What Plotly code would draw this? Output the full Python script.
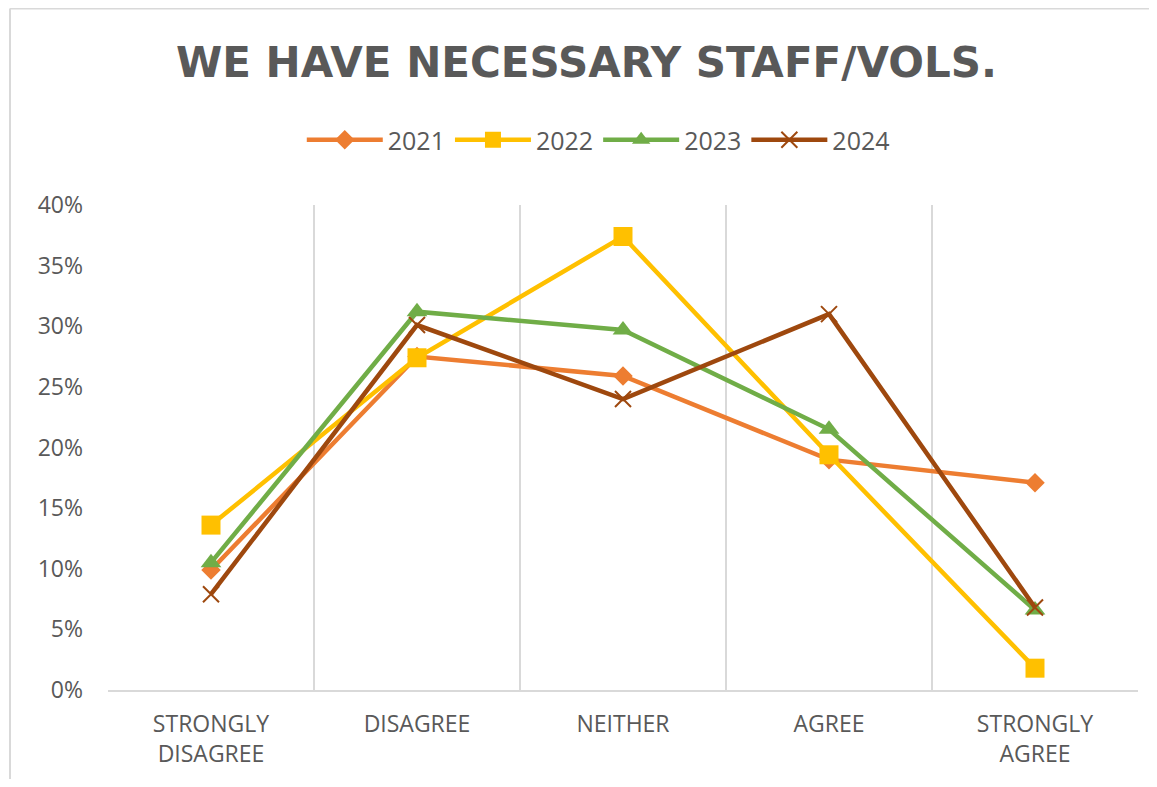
import plotly.graph_objects as go

# survey categories (x axis) and share of responses per year
categories = ["STRONGLY<br>DISAGREE", "DISAGREE", "NEITHER", "AGREE", "STRONGLY<br>AGREE"]
years = ["2021", "2022", "2023", "2024"]

share_2021 = [0.099, 0.275, 0.259, 0.190, 0.171]
share_2022 = [0.136, 0.274, 0.374, 0.194, 0.018]
share_2023 = [0.105, 0.312, 0.297, 0.215, 0.066]
share_2024 = [0.079, 0.301, 0.240, 0.310, 0.068]

y_ticks = [0, 0.05, 0.10, 0.15, 0.20, 0.25, 0.30, 0.35, 0.40]

series = [share_2021, share_2022, share_2023, share_2024]
colors = ["#ED7D31", "#FFC000", "#70AD47", "#9E480E"]
symbols = ["diamond", "square", "triangle-up", "x-thin"]
sizes = [15, 19, 18, 16]

fig = go.Figure()
x_pos = list(range(len(categories)))
for name, vals, col, sym, sz in zip(years, series, colors, symbols, sizes):
    marker = dict(symbol=sym, size=sz, color=col)
    if sym == "x-thin":
        marker["line"] = dict(width=2, color=col)
    fig.add_trace(go.Scatter(
        x=x_pos,
        y=vals,
        name=name,
        mode="lines+markers",
        line=dict(color=col, width=4.5),
        marker=marker,
    ))

# page body has an 8px margin, so the figure is a bit smaller than the window
W, H = 1141, 771
L, T, R, B = 100, 197, 11, 89
pw, ph = W - L - R, H - T - B

# left and top edges of the excel chart frame
fig.add_shape(type="line", xref="paper", yref="paper",
              x0=(2 - L) / pw, x1=(2 - L) / pw,
              y0=-B / ph, y1=(H - B - 0.5) / ph,
              line=dict(color="#d9d9d9", width=2), layer="below")
fig.add_shape(type="line", xref="paper", yref="paper",
              x0=(2 - L) / pw, x1=(W - L) / pw,
              y0=(H - B - 0.5) / ph, y1=(H - B - 0.5) / ph,
              line=dict(color="#d9d9d9", width=2), layer="below")

fig.update_layout(
    width=W, height=H,
    margin=dict(l=L, r=R, t=T, b=B),
    paper_bgcolor="white",
    plot_bgcolor="white",
    font=dict(family="Open Sans", color="#595959"),
    title=dict(
        text="<b>WE HAVE NECESSARY STAFF/VOLS.</b>",
        x=0.507, xanchor="center", y=1 - 54 / H, yanchor="middle",
        font=dict(size=42, color="#595959", family="DejaVu Sans"),
    ),
    legend=dict(
        orientation="h", x=0.476, xanchor="center", y=1.134, yanchor="middle",
        font=dict(size=25, color="#595959"),
        itemwidth=76,
    ),
    showlegend=True,
)

fig.update_xaxes(
    range=[-0.5, len(categories) - 0.5],
    tickvals=x_pos,
    ticktext=categories,
    showgrid=False,
    zeroline=False,
    showline=True, linecolor="#d9d9d9", linewidth=2,
    ticks="",
    ticklabelstandoff=12,
    tickfont=dict(size=23, color="#595959"),
    minor=dict(tickvals=[i - 0.5 for i in range(len(categories) + 1)],
               showgrid=True, gridcolor="#d9d9d9", gridwidth=2),
)
fig.update_yaxes(
    range=[0, 0.40],
    tickvals=y_ticks,
    tickformat=".0%",
    showgrid=False,
    zeroline=False,
    showline=False,
    ticks="",
    ticklabelstandoff=24,
    tickfont=dict(size=23, color="#595959"),
)

fig.write_html("out.html")
